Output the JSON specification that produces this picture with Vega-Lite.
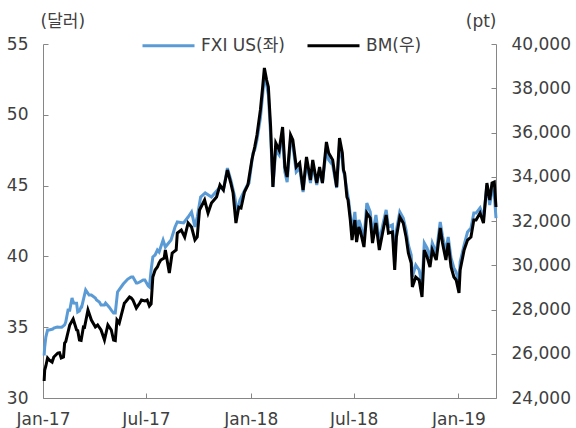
{
  "$schema": "https://vega.github.io/schema/vega-lite/v6.json",
  "width": 453,
  "height": 354,
  "autosize": {"type": "none"},
  "padding": {"left": 43, "top": 44, "right": 80, "bottom": 30},
  "background": "white",
  "config": {
    "view": {"stroke": null},
    "font": "DejaVu Sans, Noto Sans CJK KR",
    "axis": {
      "grid": false,
      "domainColor": "#868686",
      "tickColor": "#868686",
      "labelColor": "#404040",
      "titleColor": "#404040",
      "labelFontSize": 17,
      "titleFontSize": 17,
      "titleFontWeight": "normal",
      "labelFont": "DejaVu Sans, Noto Sans CJK KR",
      "titleFont": "DejaVu Sans, Noto Sans CJK KR",
      "tickSize": -5,
      "labelPadding": 20,
      "labelFlush": false
    },
    "legend": {
      "labelFont": "DejaVu Sans, Noto Sans CJK KR",
      "labelFontSize": 17,
      "labelColor": "#404040"
    }
  },
  "datasets": {
    "fxi": [
      {"date": "2017-01-03", "v": 33.0}, {"date": "2017-01-04", "v": 33.6}, {"date": "2017-01-06", "v": 34.3},
      {"date": "2017-01-09", "v": 34.8}, {"date": "2017-01-12", "v": 34.8}, {"date": "2017-01-18", "v": 34.87},
      {"date": "2017-01-20", "v": 34.94}, {"date": "2017-01-26", "v": 35.01}, {"date": "2017-01-30", "v": 35.0},
      {"date": "2017-02-03", "v": 35.0}, {"date": "2017-02-08", "v": 35.16}, {"date": "2017-02-10", "v": 35.37},
      {"date": "2017-02-14", "v": 36.21}, {"date": "2017-02-17", "v": 36.2}, {"date": "2017-02-21", "v": 37.06},
      {"date": "2017-02-22", "v": 36.92}, {"date": "2017-02-24", "v": 36.71}, {"date": "2017-03-01", "v": 36.7},
      {"date": "2017-03-03", "v": 36.07}, {"date": "2017-03-06", "v": 36.14}, {"date": "2017-03-09", "v": 36.43},
      {"date": "2017-03-10", "v": 36.43}, {"date": "2017-03-17", "v": 37.63}, {"date": "2017-03-23", "v": 37.27},
      {"date": "2017-03-27", "v": 37.27}, {"date": "2017-04-03", "v": 37.06}, {"date": "2017-04-05", "v": 36.92},
      {"date": "2017-04-10", "v": 36.78}, {"date": "2017-04-13", "v": 36.57}, {"date": "2017-04-19", "v": 36.57},
      {"date": "2017-04-21", "v": 36.71}, {"date": "2017-04-27", "v": 36.43}, {"date": "2017-05-01", "v": 36.21},
      {"date": "2017-05-05", "v": 36.0}, {"date": "2017-05-08", "v": 36.0}, {"date": "2017-05-12", "v": 37.49},
      {"date": "2017-05-22", "v": 38.05}, {"date": "2017-05-30", "v": 38.4}, {"date": "2017-06-05", "v": 38.55},
      {"date": "2017-06-08", "v": 38.55}, {"date": "2017-06-14", "v": 38.12}, {"date": "2017-06-16", "v": 38.12},
      {"date": "2017-06-20", "v": 38.19}, {"date": "2017-06-26", "v": 38.33}, {"date": "2017-06-29", "v": 38.33},
      {"date": "2017-07-05", "v": 37.91}, {"date": "2017-07-07", "v": 37.84}, {"date": "2017-07-10", "v": 39.04},
      {"date": "2017-07-13", "v": 39.96}, {"date": "2017-07-17", "v": 40.1}, {"date": "2017-07-21", "v": 40.45},
      {"date": "2017-07-24", "v": 40.31}, {"date": "2017-07-31", "v": 41.16}, {"date": "2017-08-04", "v": 40.66},
      {"date": "2017-08-14", "v": 41.16}, {"date": "2017-08-21", "v": 42.08}, {"date": "2017-08-25", "v": 42.43},
      {"date": "2017-09-05", "v": 42.36}, {"date": "2017-09-13", "v": 42.78}, {"date": "2017-09-19", "v": 43.14},
      {"date": "2017-09-25", "v": 42.08}, {"date": "2017-09-29", "v": 42.78}, {"date": "2017-10-05", "v": 44.19},
      {"date": "2017-10-13", "v": 44.48}, {"date": "2017-10-24", "v": 44.19}, {"date": "2017-10-30", "v": 44.48},
      {"date": "2017-11-08", "v": 44.9}, {"date": "2017-11-14", "v": 44.69}, {"date": "2017-11-21", "v": 46.24},
      {"date": "2017-11-27", "v": 45.4}, {"date": "2017-12-04", "v": 44.19}, {"date": "2017-12-08", "v": 43.14},
      {"date": "2017-12-13", "v": 43.98}, {"date": "2017-12-19", "v": 44.48}, {"date": "2017-12-26", "v": 45.04},
      {"date": "2017-12-29", "v": 45.18}, {"date": "2018-01-05", "v": 47.3}, {"date": "2018-01-08", "v": 47.51},
      {"date": "2018-01-12", "v": 48.22}, {"date": "2018-01-18", "v": 49.77}, {"date": "2018-01-22", "v": 51.4},
      {"date": "2018-01-25", "v": 52.81}, {"date": "2018-01-29", "v": 52.1}, {"date": "2018-02-01", "v": 51.4},
      {"date": "2018-02-05", "v": 48.57}, {"date": "2018-02-09", "v": 44.9}, {"date": "2018-02-14", "v": 47.51},
      {"date": "2018-02-20", "v": 47.16}, {"date": "2018-02-26", "v": 48.71}, {"date": "2018-03-02", "v": 45.96},
      {"date": "2018-03-06", "v": 45.25}, {"date": "2018-03-12", "v": 48.22}, {"date": "2018-03-16", "v": 47.87},
      {"date": "2018-03-22", "v": 45.96}, {"date": "2018-03-28", "v": 46.24}, {"date": "2018-04-03", "v": 44.55},
      {"date": "2018-04-09", "v": 46.67}, {"date": "2018-04-16", "v": 45.18}, {"date": "2018-04-20", "v": 46.45},
      {"date": "2018-04-27", "v": 45.04}, {"date": "2018-05-02", "v": 46.1}, {"date": "2018-05-07", "v": 45.18},
      {"date": "2018-05-14", "v": 47.66}, {"date": "2018-05-18", "v": 46.81}, {"date": "2018-05-25", "v": 46.45},
      {"date": "2018-06-01", "v": 44.83}, {"date": "2018-06-06", "v": 47.87}, {"date": "2018-06-11", "v": 46.81},
      {"date": "2018-06-13", "v": 45.96}, {"date": "2018-06-15", "v": 45.75}, {"date": "2018-06-19", "v": 44.69},
      {"date": "2018-06-22", "v": 43.98}, {"date": "2018-06-25", "v": 42.92}, {"date": "2018-06-28", "v": 41.72},
      {"date": "2018-07-03", "v": 43.14}, {"date": "2018-07-06", "v": 41.51}, {"date": "2018-07-10", "v": 42.57},
      {"date": "2018-07-13", "v": 42.22}, {"date": "2018-07-19", "v": 41.16}, {"date": "2018-07-24", "v": 43.77},
      {"date": "2018-07-30", "v": 43.14}, {"date": "2018-08-03", "v": 41.51}, {"date": "2018-08-09", "v": 42.92},
      {"date": "2018-08-15", "v": 41.02}, {"date": "2018-08-21", "v": 42.22}, {"date": "2018-08-27", "v": 43.28},
      {"date": "2018-08-31", "v": 42.08}, {"date": "2018-09-07", "v": 42.22}, {"date": "2018-09-11", "v": 39.6},
      {"date": "2018-09-14", "v": 41.86}, {"date": "2018-09-20", "v": 43.14}, {"date": "2018-09-26", "v": 42.71},
      {"date": "2018-10-01", "v": 41.86}, {"date": "2018-10-05", "v": 40.81}, {"date": "2018-10-10", "v": 40.1},
      {"date": "2018-10-12", "v": 38.55}, {"date": "2018-10-18", "v": 39.39}, {"date": "2018-10-24", "v": 39.04},
      {"date": "2018-10-29", "v": 37.98}, {"date": "2018-11-02", "v": 40.95}, {"date": "2018-11-07", "v": 40.59},
      {"date": "2018-11-12", "v": 39.89}, {"date": "2018-11-16", "v": 40.95}, {"date": "2018-11-23", "v": 40.24},
      {"date": "2018-11-30", "v": 42.43}, {"date": "2018-12-04", "v": 41.44}, {"date": "2018-12-10", "v": 40.31},
      {"date": "2018-12-14", "v": 41.37}, {"date": "2018-12-19", "v": 39.89}, {"date": "2018-12-24", "v": 39.18},
      {"date": "2018-12-28", "v": 38.9}, {"date": "2019-01-02", "v": 38.12}, {"date": "2019-01-04", "v": 39.6},
      {"date": "2019-01-11", "v": 40.81}, {"date": "2019-01-17", "v": 41.72}, {"date": "2019-01-23", "v": 42.0},
      {"date": "2019-01-28", "v": 43.06}, {"date": "2019-02-01", "v": 43.06}, {"date": "2019-02-08", "v": 43.42},
      {"date": "2019-02-14", "v": 42.71}, {"date": "2019-02-20", "v": 45.04}, {"date": "2019-02-25", "v": 43.63},
      {"date": "2019-03-01", "v": 44.69}, {"date": "2019-03-05", "v": 44.34}, {"date": "2019-03-08", "v": 42.71}
    ],
    "bm": [
      {"date": "2017-01-03", "v": 24768}, {"date": "2017-01-04", "v": 25265}, {"date": "2017-01-06", "v": 25446},
      {"date": "2017-01-09", "v": 25807}, {"date": "2017-01-12", "v": 25717}, {"date": "2017-01-17", "v": 25626},
      {"date": "2017-01-20", "v": 25852}, {"date": "2017-01-27", "v": 26033}, {"date": "2017-01-30", "v": 26050},
      {"date": "2017-02-02", "v": 25807}, {"date": "2017-02-06", "v": 25852}, {"date": "2017-02-08", "v": 26485},
      {"date": "2017-02-10", "v": 26550}, {"date": "2017-02-17", "v": 27299}, {"date": "2017-02-23", "v": 27570},
      {"date": "2017-03-01", "v": 27073}, {"date": "2017-03-03", "v": 27050}, {"date": "2017-03-06", "v": 26621},
      {"date": "2017-03-09", "v": 26600}, {"date": "2017-03-13", "v": 27208}, {"date": "2017-03-15", "v": 27200},
      {"date": "2017-03-21", "v": 27977}, {"date": "2017-03-27", "v": 27525}, {"date": "2017-04-03", "v": 27208},
      {"date": "2017-04-07", "v": 27299}, {"date": "2017-04-13", "v": 27073}, {"date": "2017-04-19", "v": 26621},
      {"date": "2017-04-25", "v": 27299}, {"date": "2017-05-01", "v": 27073}, {"date": "2017-05-05", "v": 26621},
      {"date": "2017-05-08", "v": 26600}, {"date": "2017-05-11", "v": 27525}, {"date": "2017-05-15", "v": 27389},
      {"date": "2017-05-19", "v": 27796}, {"date": "2017-05-24", "v": 28293}, {"date": "2017-05-26", "v": 28338},
      {"date": "2017-06-02", "v": 28564}, {"date": "2017-06-05", "v": 28519}, {"date": "2017-06-08", "v": 28429},
      {"date": "2017-06-14", "v": 28067}, {"date": "2017-06-20", "v": 28293}, {"date": "2017-06-23", "v": 28429},
      {"date": "2017-06-29", "v": 28384}, {"date": "2017-07-03", "v": 28429}, {"date": "2017-07-07", "v": 28158},
      {"date": "2017-07-10", "v": 28248}, {"date": "2017-07-13", "v": 29468}, {"date": "2017-07-17", "v": 29785},
      {"date": "2017-07-21", "v": 29920}, {"date": "2017-07-24", "v": 30101}, {"date": "2017-07-27", "v": 30237},
      {"date": "2017-08-02", "v": 30327}, {"date": "2017-08-04", "v": 30689}, {"date": "2017-08-11", "v": 29649},
      {"date": "2017-08-16", "v": 30553}, {"date": "2017-08-23", "v": 30689}, {"date": "2017-08-25", "v": 31457},
      {"date": "2017-09-01", "v": 31593}, {"date": "2017-09-07", "v": 31276}, {"date": "2017-09-13", "v": 31909},
      {"date": "2017-09-19", "v": 31728}, {"date": "2017-09-25", "v": 31141}, {"date": "2017-09-29", "v": 31276},
      {"date": "2017-10-03", "v": 32497}, {"date": "2017-10-12", "v": 32949}, {"date": "2017-10-18", "v": 32361},
      {"date": "2017-10-24", "v": 32813}, {"date": "2017-11-02", "v": 33084}, {"date": "2017-11-08", "v": 33627},
      {"date": "2017-11-14", "v": 33401}, {"date": "2017-11-21", "v": 34305}, {"date": "2017-11-27", "v": 33717},
      {"date": "2017-12-01", "v": 33265}, {"date": "2017-12-06", "v": 31909}, {"date": "2017-12-11", "v": 32632},
      {"date": "2017-12-15", "v": 32587}, {"date": "2017-12-21", "v": 33310}, {"date": "2017-12-27", "v": 33627},
      {"date": "2018-01-03", "v": 34757}, {"date": "2018-01-08", "v": 35344}, {"date": "2018-01-12", "v": 35887},
      {"date": "2018-01-18", "v": 37017}, {"date": "2018-01-22", "v": 38056}, {"date": "2018-01-25", "v": 38915},
      {"date": "2018-01-29", "v": 38373}, {"date": "2018-02-01", "v": 38056}, {"date": "2018-02-05", "v": 36248},
      {"date": "2018-02-09", "v": 33536}, {"date": "2018-02-14", "v": 35525}, {"date": "2018-02-20", "v": 35209},
      {"date": "2018-02-26", "v": 36248}, {"date": "2018-03-02", "v": 34440}, {"date": "2018-03-06", "v": 33988},
      {"date": "2018-03-12", "v": 35887}, {"date": "2018-03-16", "v": 35661}, {"date": "2018-03-22", "v": 34440},
      {"date": "2018-03-28", "v": 34621}, {"date": "2018-04-03", "v": 33401}, {"date": "2018-04-09", "v": 34892},
      {"date": "2018-04-16", "v": 33853}, {"date": "2018-04-20", "v": 34757}, {"date": "2018-04-27", "v": 33717},
      {"date": "2018-05-02", "v": 34440}, {"date": "2018-05-07", "v": 33717}, {"date": "2018-05-14", "v": 35570},
      {"date": "2018-05-18", "v": 35073}, {"date": "2018-05-25", "v": 34757}, {"date": "2018-06-01", "v": 33536},
      {"date": "2018-06-06", "v": 35751}, {"date": "2018-06-11", "v": 35073}, {"date": "2018-06-13", "v": 34305},
      {"date": "2018-06-15", "v": 34169}, {"date": "2018-06-19", "v": 33084}, {"date": "2018-06-21", "v": 32949},
      {"date": "2018-06-25", "v": 32045}, {"date": "2018-06-28", "v": 31141}, {"date": "2018-07-03", "v": 32045},
      {"date": "2018-07-06", "v": 31050}, {"date": "2018-07-10", "v": 31728}, {"date": "2018-07-13", "v": 31502},
      {"date": "2018-07-19", "v": 30824}, {"date": "2018-07-24", "v": 32361}, {"date": "2018-07-30", "v": 32135},
      {"date": "2018-08-03", "v": 31005}, {"date": "2018-08-09", "v": 31909}, {"date": "2018-08-15", "v": 30689},
      {"date": "2018-08-21", "v": 31502}, {"date": "2018-08-27", "v": 32271}, {"date": "2018-08-31", "v": 31457},
      {"date": "2018-09-07", "v": 31502}, {"date": "2018-09-11", "v": 29785}, {"date": "2018-09-14", "v": 31276},
      {"date": "2018-09-20", "v": 32180}, {"date": "2018-09-26", "v": 31909}, {"date": "2018-10-01", "v": 31276},
      {"date": "2018-10-05", "v": 30553}, {"date": "2018-10-10", "v": 30101}, {"date": "2018-10-12", "v": 29016},
      {"date": "2018-10-18", "v": 29468}, {"date": "2018-10-24", "v": 29333}, {"date": "2018-10-29", "v": 28564},
      {"date": "2018-11-02", "v": 30689}, {"date": "2018-11-07", "v": 30372}, {"date": "2018-11-12", "v": 29920},
      {"date": "2018-11-16", "v": 30689}, {"date": "2018-11-23", "v": 30237}, {"date": "2018-11-30", "v": 31683},
      {"date": "2018-12-04", "v": 31005}, {"date": "2018-12-10", "v": 30237}, {"date": "2018-12-14", "v": 31005},
      {"date": "2018-12-19", "v": 29920}, {"date": "2018-12-24", "v": 29468}, {"date": "2018-12-28", "v": 29333},
      {"date": "2019-01-02", "v": 28745}, {"date": "2019-01-04", "v": 29785}, {"date": "2019-01-11", "v": 30689},
      {"date": "2019-01-17", "v": 31141}, {"date": "2019-01-23", "v": 31276}, {"date": "2019-01-28", "v": 32045},
      {"date": "2019-02-01", "v": 32045}, {"date": "2019-02-08", "v": 32361}, {"date": "2019-02-14", "v": 31909},
      {"date": "2019-02-20", "v": 33717}, {"date": "2019-02-25", "v": 32949}, {"date": "2019-03-01", "v": 33717},
      {"date": "2019-03-05", "v": 33762}, {"date": "2019-03-08", "v": 32632}
    ]
  },
  "layer": [
    {
      "data": {"name": "fxi"},
      "mark": {"type": "line", "strokeWidth": 3, "interpolate": "linear"},
      "encoding": {
        "x": {
          "field": "date", "type": "temporal",
          "scale": {"type": "utc", "domain": [{"year": 2017, "month": 1, "date": 1, "utc": true}, {"year": 2019, "month": 3, "date": 8, "utc": true}]},
          "axis": {
            "title": null,
            "format": "%b-%y",
            "values": [
              {"year": 2017, "month": 1, "date": 1, "utc": true},
              {"year": 2017, "month": 7, "date": 1, "utc": true},
              {"year": 2018, "month": 1, "date": 1, "utc": true},
              {"year": 2018, "month": 7, "date": 1, "utc": true},
              {"year": 2019, "month": 1, "date": 1, "utc": true}
            ],
            "labelPadding": 18,
            "labelFlush": false
          }
        },
        "y": {
          "field": "v", "type": "quantitative",
          "scale": {"domain": [30, 55], "nice": false, "zero": false},
          "axis": {
            "orient": "left",
            "values": [30, 35, 40, 45, 50, 55],
            "title": "(달러)",
            "titleAngle": 0,
            "titleAlign": "left",
            "titleBaseline": "middle",
            "titleX": -3,
            "titleY": -23
          }
        },
        "color": {
          "datum": "FXI US(좌)",
          "type": "nominal",
          "scale": {"domain": ["FXI US(좌)", "BM(우)"], "range": ["#5b9bd5", "#000000"]},
          "legend": {
            "title": null,
            "orient": "none",
            "direction": "horizontal",
            "legendX": 98,
            "legendY": -26,
            "symbolType": "stroke",
            "symbolSize": 2704,
            "symbolStrokeWidth": 3,
            "labelOffset": 5,
            "columnPadding": 16,
            "padding": 0
          }
        }
      }
    },
    {
      "data": {"name": "bm"},
      "mark": {"type": "line", "strokeWidth": 3, "interpolate": "linear"},
      "encoding": {
        "x": {"field": "date", "type": "temporal"},
        "y": {
          "field": "v", "type": "quantitative",
          "scale": {"domain": [24000, 40000], "nice": false, "zero": false},
          "axis": {
            "orient": "right",
            "values": [24000, 26000, 28000, 30000, 32000, 34000, 36000, 38000, 40000],
            "format": ",.0f",
            "title": "(pt)",
            "titleAngle": 0,
            "titleAlign": "right",
            "titleBaseline": "middle",
            "titleX": 0,
            "titleY": -23
          }
        },
        "color": {"datum": "BM(우)", "type": "nominal"}
      }
    }
  ],
  "resolve": {"scale": {"y": "independent"}, "axis": {"y": "independent"}}
}
